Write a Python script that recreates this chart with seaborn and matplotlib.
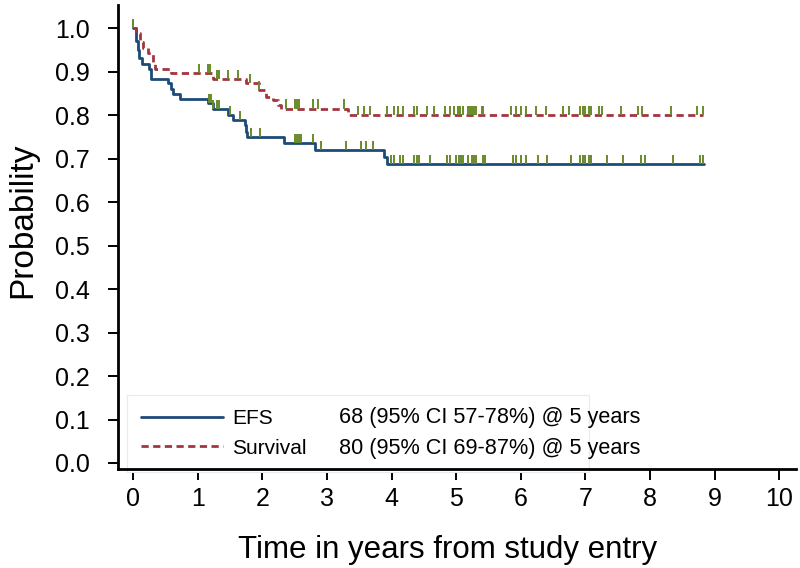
import numpy as np
import pandas as pd
import matplotlib
matplotlib.use("Agg")
import matplotlib.pyplot as plt
import seaborn as sns

# ---------------------------------------------------------------
# Kaplan-Meier step values
# ---------------------------------------------------------------
efs_time = [0.0, 0.04, 0.07, 0.09, 0.14, 0.25, 0.27, 0.54, 0.58, 0.62, 0.72,
            1.16, 1.23, 1.47, 1.55, 1.73, 1.74, 1.76, 2.34, 2.81, 3.88, 3.93, 8.84]
efs_surv = [1.0, 0.97, 0.95, 0.93, 0.918, 0.905, 0.882, 0.873, 0.861, 0.848, 0.836,
            0.827, 0.813, 0.80, 0.788, 0.777, 0.762, 0.750, 0.735, 0.72, 0.704, 0.687, 0.687]

os_time = [0.0, 0.05, 0.10, 0.15, 0.23, 0.31, 0.34, 0.59, 1.23, 1.75, 1.95,
           2.06, 2.16, 2.24, 2.29, 3.32, 8.82]
os_surv = [1.0, 0.988, 0.968, 0.953, 0.942, 0.922, 0.907, 0.896, 0.883, 0.873, 0.857,
           0.842, 0.834, 0.823, 0.815, 0.80, 0.80]

# censoring times
efs_cens = [0.0, 1.17, 1.20, 1.23, 1.29, 1.32, 1.50, 1.65, 1.83, 1.97, 2.51, 2.53,
            2.57, 2.60, 2.79, 2.90, 3.29, 3.52, 3.61, 3.71, 3.99, 4.04, 4.13, 4.18,
            4.34, 4.40, 4.43, 4.60, 4.85, 4.90, 5.00, 5.04, 5.08, 5.11, 5.18, 5.19,
            5.24, 5.27, 5.31, 5.41, 5.45, 5.88, 5.93, 6.00, 6.08, 6.26, 6.41, 6.78,
            6.91, 6.96, 7.00, 7.05, 7.09, 7.34, 7.58, 7.86, 7.92, 8.36, 8.77, 8.82]
os_cens = [0.0, 1.02, 1.16, 1.19, 1.30, 1.33, 1.47, 1.62, 1.81, 1.95, 2.36, 2.50,
           2.53, 2.57, 2.78, 2.86, 3.27, 3.48, 3.57, 3.66, 3.93, 4.03, 4.10, 4.18,
           4.34, 4.39, 4.54, 4.65, 4.83, 4.90, 4.97, 5.02, 5.06, 5.11, 5.18, 5.21,
           5.24, 5.27, 5.31, 5.40, 5.42, 5.85, 5.93, 6.00, 6.08, 6.23, 6.39, 6.66,
           6.75, 6.91, 6.96, 7.00, 7.05, 7.09, 7.21, 7.26, 7.55, 7.82, 7.88, 8.32,
           8.73, 8.82]

labels = ["EFS", "Survival"]
stats = ["68 (95% CI 57-78%) @ 5 years", "80 (95% CI 69-87%) @ 5 years"]
x_ticks = list(range(0, 11))
y_ticks = [round(0.1 * i, 1) for i in range(11)]

C_EFS = "#1d4a78"
C_OS = "#a5343e"
C_CENS = "#6a8a2c"

# ---------------------------------------------------------------
sns.set_theme(style="ticks")
plt.rcParams["font.family"] = ["Liberation Sans", "DejaVu Sans"]
plt.rcParams.update({"text.color": "black", "axes.labelcolor": "black",
                     "xtick.color": "black", "ytick.color": "black"})

fig = plt.figure(figsize=(8, 5.68), dpi=100)
ax = fig.add_axes([0.1475, 0.1743, 0.8475, 0.8169])

df = pd.concat([
    pd.DataFrame({"time": efs_time, "surv": efs_surv, "curve": labels[0]}),
    pd.DataFrame({"time": os_time, "surv": os_surv, "curve": labels[1]}),
])

sns.lineplot(data=df[df.curve == labels[0]], x="time", y="surv", ax=ax,
             drawstyle="steps-post", estimator=None, sort=False,
             color=C_EFS, lw=2.0, label=labels[0])
sns.lineplot(data=df[df.curve == labels[1]], x="time", y="surv", ax=ax,
             drawstyle="steps-post", estimator=None, sort=False,
             color=C_OS, lw=2.0, label=labels[1])
ax.lines[1].set_dashes((2.6, 1.6))


def step_value(times, surv, t):
    idx = np.searchsorted(times, t, side="right") - 1
    return np.asarray(surv)[idx]


tick_h = 0.021
for times, surv, cens in [(efs_time, efs_surv, efs_cens), (os_time, os_surv, os_cens)]:
    base = step_value(times, surv, cens)
    ax.vlines(cens, base, base + tick_h, color=C_CENS, lw=1.4, zorder=3)

ax.set_xlim(-0.236, 10.26)
ax.set_ylim(-0.0138, 1.053)
ax.set_xticks(x_ticks)
ax.set_yticks(y_ticks)
ax.set_yticklabels([f"{v:.1f}" for v in y_ticks])
ax.tick_params(axis="x", labelsize=18, length=8, width=1.4, pad=5)
ax.tick_params(axis="y", labelsize=18, length=7, width=1.4, pad=13)
for s in ["left", "bottom"]:
    ax.spines[s].set_linewidth(2.0)
    ax.spines[s].set_color("black")
    ax.spines[s].set_zorder(6)
sns.despine(ax=ax)

ax.set_xlabel("Time in years from study entry", fontsize=22.5, labelpad=17)
ax.set_ylabel("Probability", fontsize=24, labelpad=12)
ax.xaxis.label.set_x(0.486)
ax.yaxis.label.set_y(0.537)

leg = ax.legend(loc="upper left", bbox_to_anchor=(0.0137, 0.0, 0.681, 0.1595),
                mode="expand", borderaxespad=0, fontsize=15, frameon=True,
                fancybox=False, framealpha=1, handlelength=3.9, handletextpad=0.45,
                labelspacing=0.5, borderpad=0.68)
leg.get_frame().set_edgecolor("#e4ecf1")
leg.get_frame().set_linewidth(0.8)
for t in leg.get_texts():
    t.set_color("black")

for y, s in zip([0.104, 0.033], stats):
    ax.text(3.18, y, s, fontsize=15.6, va="center", ha="left", zorder=10)

fig.savefig("out.png", dpi=100)
